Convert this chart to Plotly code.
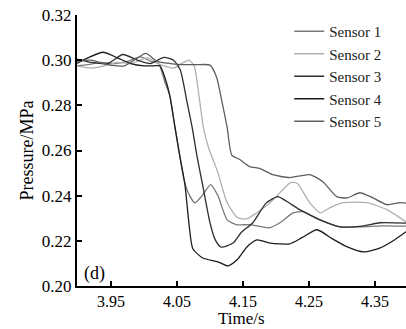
import plotly.graph_objects as go

# Sensor 1
t1 = [3.898, 3.915, 3.935, 3.955, 3.975, 3.995, 4.01, 4.022, 4.032, 4.039, 4.047, 4.054, 4.06, 4.066, 4.077, 4.088, 4.101, 4.112, 4.126, 4.141, 4.16, 4.19, 4.206, 4.226, 4.241, 4.266, 4.297, 4.33, 4.36, 4.397]
p1 = [0.2975, 0.2980, 0.2990, 0.2985, 0.2995, 0.3015, 0.2995, 0.2985, 0.2900, 0.2844, 0.2702, 0.2580, 0.2480, 0.2420, 0.2368, 0.2400, 0.2449, 0.2400, 0.2293, 0.2271, 0.2272, 0.2258, 0.2280, 0.2324, 0.2329, 0.2293, 0.2262, 0.2262, 0.2266, 0.2265]
# Sensor 2
t2 = [3.898, 3.92, 3.94, 3.96, 3.98, 4.005, 4.025, 4.045, 4.06, 4.068, 4.076, 4.083, 4.09, 4.097, 4.112, 4.126, 4.142, 4.156, 4.171, 4.191, 4.206, 4.222, 4.232, 4.251, 4.267, 4.282, 4.302, 4.338, 4.368, 4.397]
p2 = [0.2975, 0.2965, 0.2975, 0.2990, 0.2985, 0.3010, 0.2980, 0.2965, 0.2990, 0.3000, 0.2975, 0.2849, 0.2702, 0.2620, 0.2502, 0.2369, 0.2302, 0.2298, 0.2324, 0.2369, 0.2413, 0.2458, 0.2455, 0.2369, 0.2324, 0.2347, 0.2369, 0.2369, 0.2338, 0.2284]
# Sensor 3
t3 = [3.898, 3.92, 3.945, 3.968, 3.99, 4.01, 4.03, 4.045, 4.055, 4.065, 4.073, 4.08, 4.09, 4.1, 4.108, 4.117, 4.135, 4.147, 4.165, 4.185, 4.203, 4.216, 4.236, 4.267, 4.297, 4.33, 4.358, 4.397]
p3 = [0.3005, 0.2990, 0.2985, 0.3025, 0.3000, 0.2985, 0.3012, 0.3000, 0.2956, 0.2818, 0.2702, 0.2580, 0.2430, 0.2280, 0.2204, 0.2172, 0.2190, 0.2236, 0.2280, 0.2367, 0.2396, 0.2375, 0.2338, 0.2293, 0.2262, 0.2265, 0.2280, 0.2278]
# Sensor 4
t4 = [3.898, 3.915, 3.938, 3.96, 3.98, 4.0, 4.015, 4.024, 4.032, 4.039, 4.047, 4.054, 4.062, 4.068, 4.074, 4.089, 4.112, 4.127, 4.141, 4.156, 4.171, 4.191, 4.221, 4.24, 4.262, 4.285, 4.308, 4.333, 4.358, 4.38, 4.397]
p4 = [0.2985, 0.3010, 0.3035, 0.3010, 0.2985, 0.2975, 0.2975, 0.2975, 0.2920, 0.2844, 0.2702, 0.2580, 0.2450, 0.2280, 0.2165, 0.2124, 0.2107, 0.2089, 0.2116, 0.2173, 0.2204, 0.2190, 0.2187, 0.2215, 0.2249, 0.2210, 0.2173, 0.2151, 0.2169, 0.2205, 0.2240]
# Sensor 5
t5 = [3.898, 3.92, 3.945, 3.97, 3.99, 4.003, 4.02, 4.04, 4.06, 4.08, 4.1, 4.11, 4.118, 4.126, 4.133, 4.145, 4.16, 4.176, 4.195, 4.221, 4.251, 4.271, 4.292, 4.308, 4.327, 4.347, 4.368, 4.388, 4.397]
p5 = [0.2995, 0.3000, 0.2980, 0.2975, 0.3010, 0.3030, 0.2995, 0.2985, 0.2980, 0.2980, 0.2978, 0.2924, 0.2818, 0.2702, 0.2580, 0.2560, 0.2529, 0.2520, 0.2493, 0.2480, 0.2493, 0.2462, 0.2396, 0.2390, 0.2413, 0.2390, 0.2360, 0.2369, 0.2367]

names = ["Sensor 1", "Sensor 2", "Sensor 3", "Sensor 4", "Sensor 5"]
colors = ["#7a7a7a", "#b0b0b0", "#2e2e2e", "#1c1c1c", "#5e5e5e"]
xticks = [3.95, 4.05, 4.15, 4.25, 4.35]
yticks = [0.20, 0.22, 0.24, 0.26, 0.28, 0.30, 0.32]

fig = go.Figure()
for t, p, n, c in zip([t1, t2, t3, t4, t5], [p1, p2, p3, p4, p5], names, colors):
    fig.add_trace(go.Scatter(x=t, y=p, mode="lines", name=n,
                             line=dict(color=c, width=1.3, shape="spline", smoothing=0.6)))

font = "Liberation Serif, Times New Roman, serif"
fig.update_layout(
    width=406, height=329,
    margin=dict(l=77, r=0, t=15, b=43),
    paper_bgcolor="white", plot_bgcolor="white",
    font=dict(family=font, size=17, color="black"),
    legend=dict(x=0.645, y=1.0, xanchor="left", yanchor="top",
                bgcolor="rgba(0,0,0,0)", font=dict(size=15, family=font, color="#222"),
                tracegroupgap=0, itemwidth=30),
    showlegend=True,
    annotations=[
        dict(text="(d)", x=0.015, y=0.0, xref="paper", yref="paper",
             xanchor="left", yanchor="bottom", showarrow=False,
             font=dict(size=18, family=font)),
        dict(text="Time/s", x=0.5, y=-0.1587, xref="paper", yref="paper",
             xanchor="center", yanchor="bottom", showarrow=False, borderpad=0,
             font=dict(size=17, family=font)),
    ],
)
fig.update_xaxes(range=[3.8985, 4.397], tickvals=xticks, ticktext=[f"{v:.2f}" for v in xticks],
                 ticks="inside", ticklen=5, tickwidth=1.5, tickcolor="black",
                 tickfont=dict(size=16),
                 showline=True, linecolor="black", linewidth=2, showgrid=False, zeroline=False)
fig.update_yaxes(range=[0.20, 0.32], tickvals=yticks, ticktext=[f"{v:.2f}" for v in yticks],
                 ticks="inside", ticklen=5, tickwidth=1.5, tickcolor="black",
                 showline=True, linecolor="black", linewidth=2, showgrid=False, zeroline=False,
                 title=dict(text="Pressure/MPa", standoff=4, font=dict(size=18)))
fig.write_html("out.html")
